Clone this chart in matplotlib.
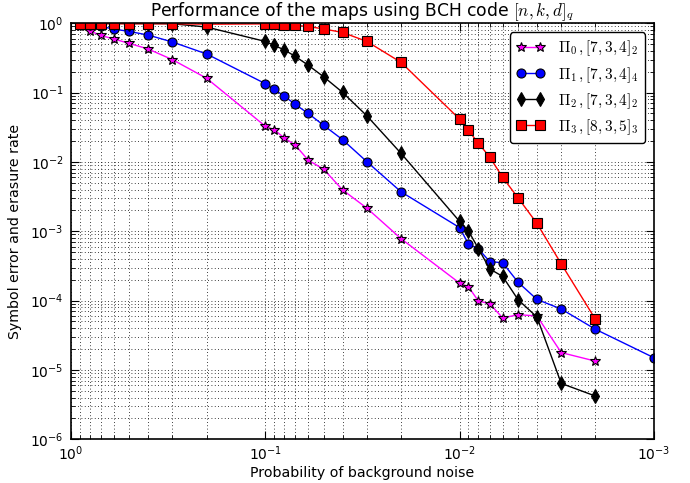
import matplotlib
matplotlib.use("Agg")
import matplotlib.pyplot as plt
from matplotlib.ticker import LogLocator, NullFormatter

# ---------------- data ----------------
x_main = [0.9, 0.8, 0.7, 0.6, 0.5, 0.4, 0.3, 0.2, 0.1,
          0.09, 0.08, 0.07, 0.06, 0.05, 0.04, 0.03, 0.02, 0.01,
          0.009, 0.008, 0.007, 0.006, 0.005, 0.004, 0.003, 0.002]
x_pi1 = x_main + [0.001]

y_pi0 = [0.911, 0.780, 0.668, 0.593, 0.513, 0.426, 0.299, 0.161, 0.0329,
         0.0292, 0.0224, 0.0175, 0.0106, 0.00785, 0.00396, 0.00216, 0.000783, 0.000179,
         0.000158, 9.87e-5, 9.02e-5, 5.62e-5, 6.27e-5, 6.01e-5, 1.78e-5, 1.34e-5]
y_pi1 = [0.98, 0.95, 0.90, 0.826, 0.762, 0.677, 0.537, 0.361, 0.135,
         0.111, 0.090, 0.0675, 0.050, 0.0337, 0.0210, 0.0101, 0.00371, 0.00113,
         0.000657, 0.000557, 0.000366, 0.000351, 0.000184, 0.000104, 7.57e-5, 3.86e-5,
         1.50e-5]
y_pi2 = [0.995, 0.995, 0.995, 0.995, 0.99, 0.99, 0.985, 0.882, 0.548,
         0.480, 0.416, 0.333, 0.248, 0.169, 0.101, 0.0464, 0.0133, 0.00139,
         0.00101, 0.000562, 0.000287, 0.000223, 0.000103, 5.8e-5, 6.4e-6, 4.2e-6]
y_pi3 = [0.985, 0.985, 0.985, 0.985, 0.985, 0.985, 0.985, 0.97, 0.98,
         0.967, 0.952, 0.930, 0.900, 0.828, 0.738, 0.548, 0.273, 0.0415,
         0.0285, 0.0186, 0.0118, 0.00597, 0.00303, 0.00130, 0.000339, 5.37e-5]

labels = [r'$\Pi_0\,,[7,3,4]_2$', r'$\Pi_1\,,[7,3,4]_4$',
          r'$\Pi_2\,,[7,3,4]_2$', r'$\Pi_3\,,[8,3,5]_3$']
title = r'Performance of the maps using BCH code $[n,k,d]_q$'
xlabel = 'Probability of background noise'
ylabel = 'Symbol error and erasure rate'

# ---------------- style ----------------
plt.rcParams['font.family'] = ['DejaVu Sans']
plt.rcParams['mathtext.fontset'] = 'cm'
plt.rcParams['xtick.direction'] = 'in'
plt.rcParams['ytick.direction'] = 'in'
plt.rcParams['xtick.top'] = True
plt.rcParams['ytick.right'] = True

fig = plt.figure(figsize=(6.9, 4.83), dpi=100)
ax = fig.add_axes([0.1025, 0.0905, 0.8453, 0.8613])

series = [
    (x_main, y_pi0, 'magenta', '*', 7),
    (x_pi1, y_pi1, 'blue', 'o', 6.5),
    (x_main, y_pi2, 'black', 'd', 7.5),
    (x_main, y_pi3, 'red', 's', 6.5),
]
for (xs, ys, c, m, ms), lab in zip(series, labels):
    ax.plot(xs, ys, color=c, marker=m, markersize=ms, markerfacecolor=c,
            markeredgecolor='black', markeredgewidth=0.8, linewidth=1.0,
            label=lab)

ax.set_xscale('log')
ax.set_yscale('log')
ax.set_xlim(1.0, 1e-3)
ax.set_ylim(1e-6, 1.0)
ax.xaxis.set_major_locator(LogLocator(base=10, numticks=10))
ax.yaxis.set_major_locator(LogLocator(base=10, numticks=10))
ax.xaxis.set_minor_locator(LogLocator(base=10, subs=range(2, 10), numticks=20))
ax.yaxis.set_minor_locator(LogLocator(base=10, subs=range(2, 10), numticks=20))
ax.xaxis.set_minor_formatter(NullFormatter())
ax.yaxis.set_minor_formatter(NullFormatter())

ax.grid(True, which='both', color='black', linestyle=(0, (1, 3)), linewidth=0.6)
ax.tick_params(which='major', length=6, width=0.8, labelsize=10)
ax.tick_params(axis='x', which='major', pad=4)
ax.tick_params(axis='y', which='major', pad=5)
ax.tick_params(which='minor', length=3, width=0.6)
for s in ax.spines.values():
    s.set_linewidth(1.2)

ax.set_title(title, fontsize=12.3, pad=5)
ax.set_xlabel(xlabel, fontsize=10.2, labelpad=2)
ax.set_ylabel(ylabel, fontsize=10.2, labelpad=6)

leg = ax.legend(loc='upper right', numpoints=2, fontsize=11, fancybox=True,
                framealpha=1.0, edgecolor='black', borderaxespad=0.6,
                handlelength=1.8, handletextpad=0.9, labelspacing=0.42,
                borderpad=0.42)
leg.get_frame().set_linewidth(1.0)

fig.savefig('out.png', dpi=100)
